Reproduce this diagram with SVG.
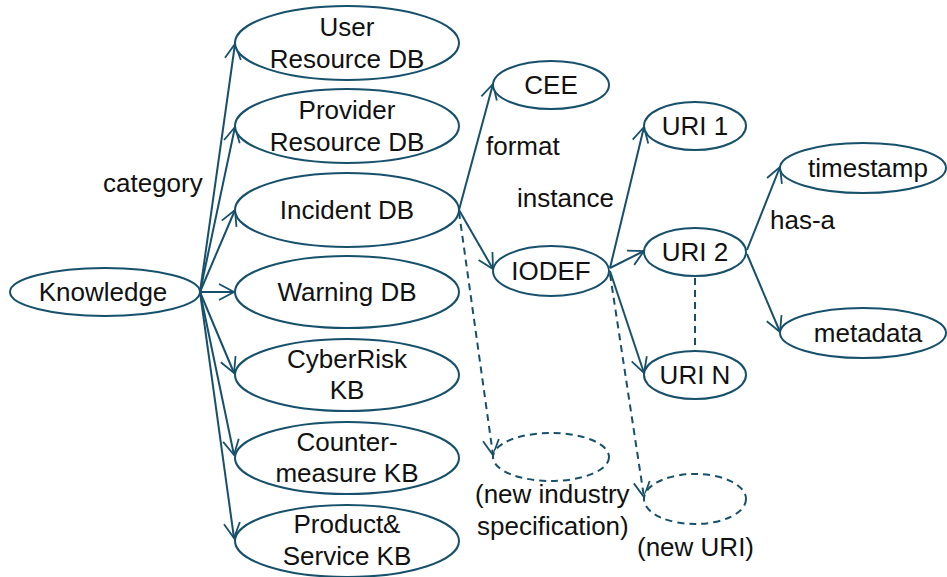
<svg xmlns="http://www.w3.org/2000/svg" width="947" height="577" viewBox="0 0 947 577">
  <defs>
    <marker id="open" markerUnits="userSpaceOnUse" markerWidth="20" markerHeight="20" viewBox="-16 -10 18 20" refX="0" refY="0" orient="auto">
      <path d="M-15,-8 L0,0 L-15,8" fill="none" stroke="#17506a" stroke-width="1.8"/>
    </marker>
  </defs>
  <style>
    .n ellipse { fill: #ffffff; stroke: #17506a; stroke-width: 2; }
    .n.dash ellipse { stroke-dasharray: 7 5; }
    text { font-family: "Liberation Sans", Arial, sans-serif; font-size: 26px; fill: #111111; }
    .n text { text-anchor: middle; }
    .e line { stroke: #17506a; stroke-width: 2; fill: none; }
    .e .arrow { marker-end: url(#open); }
    .e .dashed { stroke-dasharray: 7 5; }
  </style>
  <rect width="947" height="577" fill="#ffffff"/>

  <!-- connectors -->
  <g id="connectors" class="e">
    <line class="arrow" x1="200" y1="292" x2="235" y2="44"/>
    <line class="arrow" x1="200" y1="292" x2="235" y2="127"/>
    <line class="arrow" x1="200" y1="292" x2="235" y2="210"/>
    <line class="arrow" x1="200" y1="292" x2="234" y2="292"/>
    <line class="arrow" x1="200" y1="292" x2="234" y2="373"/>
    <line class="arrow" x1="200" y1="292" x2="234" y2="455"/>
    <line class="arrow" x1="200" y1="292" x2="234" y2="538"/>

    <line class="arrow" x1="459" y1="210" x2="493" y2="84"/>
    <line class="arrow" x1="459" y1="210" x2="493" y2="269"/>
    <line class="arrow dashed" x1="459" y1="212" x2="493" y2="455"/>

    <line class="arrow" x1="610" y1="268" x2="644" y2="127"/>
    <line class="arrow" x1="610" y1="268" x2="644" y2="251"/>
    <line class="arrow" x1="610" y1="271" x2="644" y2="373"/>
    <line class="arrow dashed" x1="610" y1="274" x2="644" y2="497"/>

    <line class="dashed" x1="695" y1="278" x2="695" y2="346"/>

    <line class="arrow" x1="747" y1="250" x2="780" y2="167"/>
    <line class="arrow" x1="747" y1="254" x2="780" y2="332"/>
  </g>

  <!-- edge labels -->
  <g id="labels">
    <text x="103" y="192">category</text>
    <text x="486" y="155">format</text>
    <text x="517" y="207">instance</text>
    <text x="770" y="229">has-a</text>
    <text x="475" y="503">(new industry</text>
    <text x="477" y="535">specification)</text>
    <text x="637" y="556">(new URI)</text>
  </g>

  <!-- nodes -->
  <g id="knowledge" class="n">
    <ellipse cx="105" cy="292" rx="95" ry="24"/>
    <text x="103" y="301">Knowledge</text>
  </g>
  <g id="user-resource-db" class="n">
    <ellipse cx="347" cy="43" rx="112" ry="37"/>
    <text x="347" y="36">User</text>
    <text x="347" y="68">Resource DB</text>
  </g>
  <g id="provider-resource-db" class="n">
    <ellipse cx="347" cy="126" rx="112" ry="37"/>
    <text x="347" y="119">Provider</text>
    <text x="347" y="151">Resource DB</text>
  </g>
  <g id="incident-db" class="n">
    <ellipse cx="347" cy="210" rx="112" ry="37"/>
    <text x="347" y="219">Incident DB</text>
  </g>
  <g id="warning-db" class="n">
    <ellipse cx="347" cy="292" rx="112" ry="36"/>
    <text x="347" y="301">Warning DB</text>
  </g>
  <g id="cyberrisk-kb" class="n">
    <ellipse cx="347" cy="375" rx="112" ry="36"/>
    <text x="347" y="368">CyberRisk</text>
    <text x="347" y="399">KB</text>
  </g>
  <g id="countermeasure-kb" class="n">
    <ellipse cx="347" cy="458" rx="112" ry="36"/>
    <text x="347" y="451">Counter-</text>
    <text x="347" y="482">measure KB</text>
  </g>
  <g id="product-service-kb" class="n">
    <ellipse cx="347" cy="541" rx="112" ry="36"/>
    <text x="347" y="533">Product&amp;</text>
    <text x="347" y="565">Service KB</text>
  </g>

  <g id="cee" class="n">
    <ellipse cx="551" cy="85" rx="58" ry="24"/>
    <text x="551" y="94">CEE</text>
  </g>
  <g id="iodef" class="n">
    <ellipse cx="551" cy="271" rx="58" ry="25"/>
    <text x="551" y="280">IODEF</text>
  </g>
  <g id="new-spec" class="n dash">
    <ellipse cx="551" cy="457" rx="58" ry="24"/>
  </g>

  <g id="uri-1" class="n">
    <ellipse cx="695" cy="126" rx="51" ry="24"/>
    <text x="695" y="135">URI 1</text>
  </g>
  <g id="uri-2" class="n">
    <ellipse cx="695" cy="252" rx="51" ry="24"/>
    <text x="695" y="261">URI 2</text>
  </g>
  <g id="uri-n" class="n">
    <ellipse cx="695" cy="375" rx="51" ry="24"/>
    <text x="695" y="384">URI N</text>
  </g>
  <g id="new-uri" class="n dash">
    <ellipse cx="695" cy="499" rx="51" ry="25"/>
  </g>

  <g id="timestamp" class="n">
    <ellipse cx="863" cy="168" rx="83" ry="25"/>
    <text x="868" y="177">timestamp</text>
  </g>
  <g id="metadata" class="n">
    <ellipse cx="863" cy="333" rx="83" ry="25"/>
    <text x="868" y="342">metadata</text>
  </g>
</svg>
